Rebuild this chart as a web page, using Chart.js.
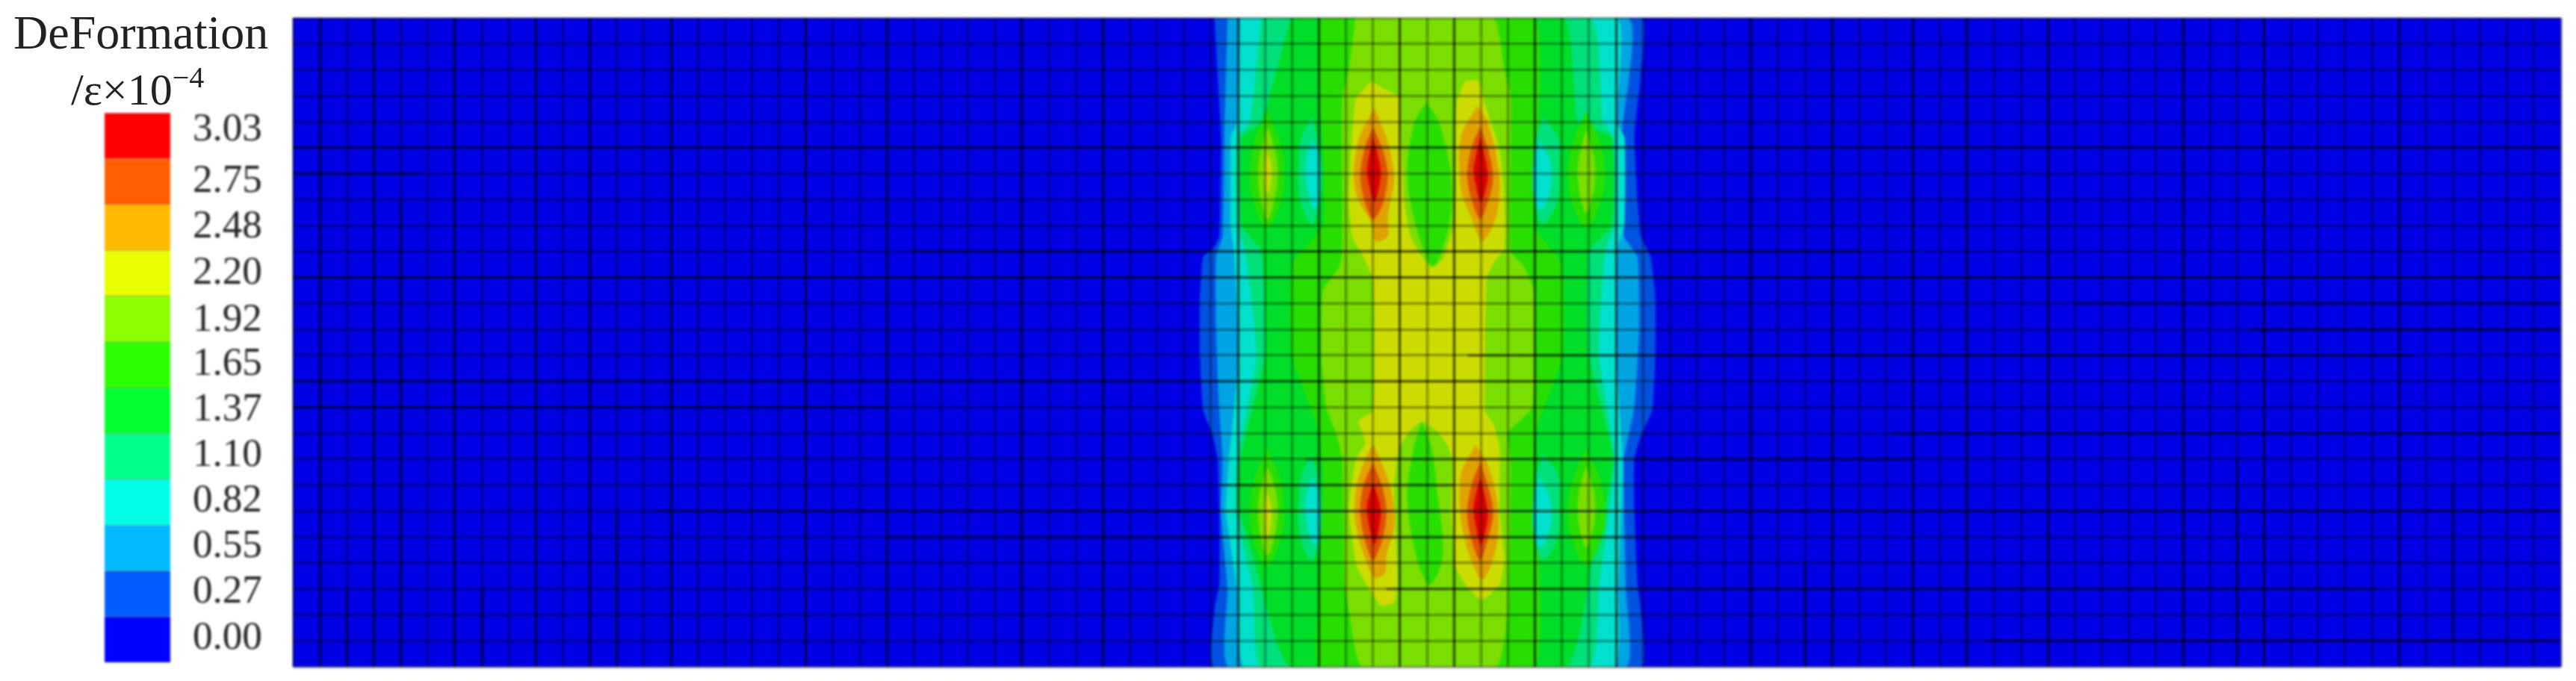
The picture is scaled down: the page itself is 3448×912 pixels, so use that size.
<!DOCTYPE html>
<html>
<head>
<meta charset="utf-8">
<title>DeFormation</title>
<script src="https://cdn.jsdelivr.net/npm/chart.js@4/dist/chart.umd.min.js"></script>
<style>
    html, body { margin: 0; background: #fff; width: 3448px; height: 912px; overflow: hidden; }
    canvas { position: absolute; top: 0; filter: blur(1.6px); }
    #plateChart { left: 385px; }
    #scaleChart { left: 0; }
    .head { position: absolute; font-family: "Liberation Serif", serif; color: #222; white-space: nowrap; filter: blur(0.7px); line-height: 1; }
    #head1 { left: 18px; top: 12px; font-size: 64px; }
    #head2 { left: 95px; top: 90px; font-size: 60px; }
    #head2 sup { font-size: 40px; position: relative; top: -6px; vertical-align: top; line-height: 1; }
</style>
</head>
<body>
<canvas id="scaleChart" width="385" height="912"></canvas>
<canvas id="plateChart" width="3063" height="912"></canvas>
<div class="head" id="head1">DeFormation</div>
<div class="head" id="head2">/ε×10<sup>−4</sup></div>

<script>
// Legend, lowest band first
const scaleLabels = ["0.00", "0.27", "0.55", "0.82", "1.10", "1.37", "1.65", "1.92", "2.20", "2.48", "2.75", "3.03"];
const scaleColors = ["#0000ff", "#005dff", "#00b9ff", "#00ffe7", "#00ff8b", "#00ff2e", "#2eff00", "#8bff00", "#e7ff00", "#ffb900", "#ff5d00", "#ff0000"];
const scaleLabelPos = [0.52, 1.53, 2.53, 3.52, 4.52, 5.51, 6.5, 7.46, 8.5, 9.5, 10.5, 11.63];
// The plate shows the same bands a bit darker
const plateColors = ["#0000e4", "#0052e0", "#00a4e2", "#00e0cc", "#00e07a", "#00de28", "#28de00", "#7ade00", "#ccdc00", "#e0a200", "#e05200", "#de0000"];

// Mesh size in elements and the lines that print darker
const meshCols = 84;
const meshRows = 25;
const darkCols = [1, 3, 6, 9, 11, 14, 19, 22, 27, 30, 35, 38, 41, 43, 46, 49, 54, 57, 60, 62, 65, 70, 73, 78];
const darkRows = [5, 10];
// Pieces of mesh lines that stop part way: [from x, from y, to x, to y]
const meshPieces = [
    [0, 6, 4.7, 6], [23, 9, 58, 9], [0, 14, 48.5, 14], [0, 15, 22, 15], [59.2, 16, 84, 16],
    [37.5, 17, 60, 17], [34.3, 18, 43, 18], [13.3, 19, 84, 19], [22, 20, 52, 20], [40.5, 22, 77.2, 22],
    [43.5, 13, 78.5, 13], [66, 11, 84, 11], [72.5, 12, 84, 12], [62.7, 24, 84, 24],
    [4, 7, 4, 25], [12, 19, 12, 25], [2, 22, 2, 25], [7, 22, 7, 25], [56, 21, 56, 25], [72, 17, 72, 25], [80, 18, 80, 24]
];

// Contour outlines in mesh units, x along the plate, y down from the top edge
const band1 = [[34.13,0],[34.25,2.2],[34.37,4.6],[34.31,8.4],[34.07,8.9],[33.71,9.2],[33.59,10.8],[33.59,13],[33.71,15.1],[34.07,16.1],[34.25,17],[34.31,19],[34.31,21.8],[34.13,22.8],[34.13,25],
    [49.92,25],[49.92,22.8],[49.8,21.8],[49.68,19],[49.68,17],[49.92,16.1],[50.34,15.1],[50.46,13],[50.46,10.8],[50.28,9.2],[49.92,8.4],[49.68,4.6],[49.92,2.2],[49.92,0]];
const band2 = [[34.61,0],[34.5,4.6],[34.43,8.4],[34.19,9.2],[34.19,12],[34.3,15],[34.43,17],[34.37,19],[34.61,22],[34.67,25],
    [49.37,25],[49.37,22],[49.3,17],[49.68,15],[49.86,12],[49.8,9.2],[49.3,8.4],[49.2,4.6],[49.44,0]];
const band3 = [[35.09,0],[34.97,4],[34.73,4.6],[34.73,8],[34.85,9],[35.03,13],[34.67,17],[34.55,19],[34.97,22],[35.27,25],
    [48.9,25],[49.08,22],[49.25,17],[49,13],[49.02,9],[49.32,8],[49.32,4.6],[49,4],[49.02,0]];
const band4 = [[35.87,0],[35.45,4],[34.97,4.6],[34.97,8],[35.27,9],[35.69,13],[34.97,17],[34.91,19],[35.57,22],[35.87,25],
    [48,25],[48.36,22],[48.95,17],[48.36,13],[48.6,9],[48.95,8],[48.9,4.6],[48.5,4],[48.05,0]];
const band5 = [[36.95,0],[35.87,4],[35.15,4.6],[35.15,8],[35.87,9],[36,13],[35.09,17],[35.09,19],[35.63,21],[36.95,25],
    [47.15,25],[48.1,21],[48.9,17],[48,13],[48,9],[48.84,8],[48.84,4.6],[47.58,4],[47.03,0]];
const band6 = [[38.03,0],[38.03,3],[38.15,5],[38.15,8],[37,9.5],[37,13],[38.03,16],[38.15,18],[38.03,22],[38.03,25],
    [45.96,25],[46,18],[46,16],[47.03,13],[47,9.5],[45.96,8],[45.96,0]];
const band7 = [[39.35,0],[39.11,2],[38.87,3],[38.87,9],[38.75,9.6],[38.15,10.5],[38.09,13],[38.27,15],[38.63,16],[38.87,17],[38.95,21.8],[39.11,22.8],[39.59,25],
    [44.57,25],[44.99,22.8],[45.1,17],[44.99,16],[45.9,15],[45.96,13],[45.96,10.5],[45.6,9.6],[45.1,9],[45.1,3],[44.87,2],[44.45,0]];
const band8 = [[39.95,2.43],[40.37,2.71],[40.97,3.05],[41.03,4.3],[41.15,6.98],[41.39,8.42],[41.87,9.28],[42.17,9.62],[42.59,9.28],[43.01,7.94],[43.07,6.4],[43.07,4.1],[43.13,3.15],[43.43,2.43],[43.91,2.43],
    [44.15,3.34],[44.69,5.06],[44.87,6.98],[44.87,8.9],[44.51,9.38],[44.21,10.05],[44.15,15.13],[44.45,15.61],[44.69,16.57],[44.69,18.97],[44.87,20.88],[44.69,21.84],[44.03,22.42],[43.43,21.84],[43.07,21.17],
    [42.89,18.97],[42.95,17.05],[42.71,16.38],[42.35,15.9],[41.81,15.56],[41.39,15.9],[40.97,16.57],[40.79,18.01],[40.85,19.93],[40.91,21.84],[40.79,22.51],[40.31,22.66],[39.95,22.13],[39.41,21.17],
    [39.11,18.97],[39.35,17.05],[39.71,16.38],[39.47,15.51],[40.01,15.13],[40.01,10.14],[39.59,9.09],[39.23,8.42],[39.11,6.98],[39.35,3.15]];

// Cooler pockets beside the hot lobes
const pocketsCool4 = [
    [[37.73,3.8],[38.03,5],[38.03,7],[37.73,7.94],[37.3,7],[37.25,5.5],[37.35,4.6]],
    [[37.73,16.8],[38.03,18],[38.03,20],[37.73,20.9],[37.3,20],[37.25,18.5],[37.35,17.6]],
    [[46.3,3.8],[46.85,4.6],[46.9,5.5],[46.85,7],[46.3,7.94],[45.96,7],[45.96,5]],
    [[46.3,16.8],[46.85,17.6],[46.9,18.5],[46.85,20],[46.3,20.9],[45.96,20],[45.96,18]]
];
const pocketsCool3 = [
    [[37.75,4.7],[38.03,5.4],[38.03,7],[37.8,7.3],[37.55,6.5],[37.5,5.5]],
    [[37.75,17.7],[38.03,18.4],[38.03,20],[37.8,20.3],[37.55,19.5],[37.5,18.5]],
    [[46.2,4.7],[46.55,5.5],[46.6,6.5],[46.25,7.4],[45.96,7],[45.96,5.4]],
    [[46.2,17.7],[46.55,18.5],[46.6,19.5],[46.25,20.4],[45.96,20],[45.96,18.4]]
];
// Small outer lobes either side
const sideLobes6 = [
    [[36.08,3.6],[36.6,4.9],[36.71,6.2],[36.55,7.2],[36.08,8.1],[35.6,7.2],[35.45,6],[35.6,4.8]],
    [[36.08,16.6],[36.6,17.9],[36.71,19.2],[36.55,20.2],[36.08,21.1],[35.6,20.2],[35.45,19],[35.6,17.8]],
    [[47.9,3.6],[48.45,4.9],[48.6,6.2],[48.4,7.2],[47.9,8.1],[47.4,7.2],[47.22,6],[47.4,4.8]],
    [[47.9,16.6],[48.45,17.9],[48.6,19.2],[48.4,20.2],[47.9,21.1],[47.4,20.2],[47.22,19],[47.4,17.8]]
];
const sideLobes7 = [
    [[36.1,4.2],[36.4,5.2],[36.47,6.1],[36.35,7],[36.1,7.75],[35.85,7],[35.75,6],[35.85,5.1]],
    [[36.1,17.3],[36.4,18.2],[36.47,19.1],[36.35,20],[36.1,20.7],[35.85,20],[35.75,19],[35.85,18.1]],
    [[47.9,4.3],[48.15,5.2],[48.24,6],[48.12,6.9],[47.9,7.5],[47.68,6.9],[47.58,6],[47.68,5.1]],
    [[47.9,17.3],[48.15,18.1],[48.24,18.9],[48.12,19.8],[47.9,20.4],[47.68,19.8],[47.58,18.9],[47.68,18]]
];
const sideLobes8 = [
    [[36.1,5.06],[36.26,5.9],[36.1,6.8],[35.97,5.9]],
    [[36.1,18.2],[36.26,19.1],[36.1,20],[35.97,19.1]]
];
// Green valley between the two hot lobes
const centreValleys = [
    [[41.99,3.24],[42.47,4.1],[42.89,6.05],[42.83,7.94],[42.23,9.57],[41.57,7.94],[41.27,6.05],[41.51,4.1]],
    [[41.81,15.56],[42.17,16.57],[42.35,18],[42.59,20.7],[42.11,21.84],[41.63,20.88],[41.27,18.49],[41.51,16.57]]
];
// The four hot lobes
const hotLobes9 = [
    [[40.05,3.45],[40.55,4.8],[40.79,6.2],[40.55,7.6],[40.55,8.4],[40.1,8.61],[39.95,7.9],[39.45,7],[39.29,6],[39.5,4.6]],
    [[43.85,3.4],[44.2,3.9],[44.55,5.2],[44.7,6.4],[44.55,7.7],[44.05,8.6],[43.6,7.6],[43.25,6.6],[43.25,4.6]],
    [[40,16.4],[40.5,17.6],[40.75,18.6],[40.79,19.6],[40.5,20.7],[40.45,21.4],[40.05,21.56],[39.7,20.8],[39.35,19.5],[39.35,18.3],[39.6,17.3]],
    [[43.8,16.45],[44.25,17.2],[44.6,18.6],[44.65,19.6],[44.5,20.7],[44.05,21.65],[43.6,20.8],[43.25,19.3],[43.25,17.6]]
];
const hotLobes10 = [
    [[40,4.2],[40.4,5.2],[40.55,6.1],[40.35,7.2],[40,7.75],[39.7,7.1],[39.53,6.1],[39.7,5]],
    [[43.97,4.2],[44.3,5.2],[44.45,6.2],[44.25,7.1],[43.97,7.75],[43.65,7],[43.49,6.1],[43.65,5]],
    [[40,17.14],[40.35,18.1],[40.5,19],[40.35,20.1],[40,20.88],[39.7,20.1],[39.53,19],[39.65,18]],
    [[43.97,17.1],[44.3,18.2],[44.45,19.1],[44.25,20.1],[43.97,20.9],[43.65,20.1],[43.49,19.1],[43.65,18]]
];
const hotLobes11 = [
    [[40,4.6],[40.25,5.6],[40.28,6.2],[40.05,7.1],[39.85,6.4],[39.78,5.8]],
    [[43.97,4.6],[44.2,5.6],[44.25,6.2],[44,7.1],[43.8,6.4],[43.73,5.8]],
    [[40,17.9],[40.25,18.7],[40.28,19.3],[40.05,20.3],[39.85,19.5],[39.78,18.8]],
    [[43.97,17.7],[44.2,18.7],[44.25,19.3],[44,20.3],[43.8,19.5],[43.73,18.8]]
];

Chart.defaults.animation = false;
Chart.defaults.responsive = false;

const plateDatasets = [];

function addOutline(points, level, tension) {
    const closed = points.concat([points[0]]);
    plateDatasets.push({
        data: closed.map(function (p) { return { x: p[0], y: p[1] }; }),
        showLine: true,
        fill: "shape",
        backgroundColor: plateColors[level],
        borderWidth: 0,
        pointRadius: 0,
        tension: tension,
    });
}

// Painted from the coolest band up, later outlines lie on top
addOutline([[0, 0], [meshCols, 0], [meshCols, meshRows], [0, meshRows]], 0, 0);
[band1, band2, band3, band4, band5, band6].forEach(function (band, i) {
    addOutline(band, i + 1, 0.15);
});
sideLobes6.forEach(function (p) { addOutline(p, 6, 0.35); });
pocketsCool4.forEach(function (p) { addOutline(p, 4, 0.35); });
pocketsCool3.forEach(function (p) { addOutline(p, 3, 0.35); });
sideLobes7.forEach(function (p) { addOutline(p, 7, 0.35); });
sideLobes8.forEach(function (p) { addOutline(p, 8, 0.35); });
addOutline(band7, 7, 0.15);
addOutline(band8, 8, 0.15);
centreValleys.forEach(function (p) { addOutline(p, 6, 0.3); });
hotLobes9.forEach(function (p) { addOutline(p, 9, 0.3); });
hotLobes10.forEach(function (p) { addOutline(p, 10, 0.3); });
hotLobes11.forEach(function (p) { addOutline(p, 11, 0.3); });

meshPieces.forEach(function (m) {
    plateDatasets.push({
        data: [{ x: m[0], y: m[1] }, { x: m[2], y: m[3] }],
        showLine: true,
        fill: false,
        borderColor: "rgba(0,0,0,0.5)",
        borderWidth: 3,
        pointRadius: 0,
    });
});

// Chart.js paints the first dataset last, so number them the other way round
plateDatasets.forEach(function (ds, i) {
    ds.order = plateDatasets.length - i;
});

function meshLine(dark) {
    return {
        z: 1,
        color: function (ctx) {
            return dark.includes(ctx.tick.value) ? "rgba(0,0,0,0.68)" : "rgba(0,0,0,0.36)";
        },
        lineWidth: 3,
        drawTicks: false,
    };
}

new Chart(document.getElementById("plateChart"), {
    type: "scatter",
    data: { datasets: plateDatasets },
    options: {
        layout: { padding: { left: 7, right: 20, top: 24, bottom: 19 } },
        plugins: { legend: { display: false }, tooltip: { enabled: false } },
        scales: {
            x: {
                type: "linear",
                min: 0,
                max: meshCols,
                ticks: { display: false, stepSize: 1 },
                grid: meshLine(darkCols),
                border: { display: false },
            },
            y: {
                type: "linear",
                reverse: true,
                min: 0,
                max: meshRows,
                ticks: { display: false, stepSize: 1 },
                grid: meshLine(darkRows),
                border: { display: false },
            },
        },
    },
});

new Chart(document.getElementById("scaleChart"), {
    type: "bar",
    data: {
        labels: [""],
        datasets: scaleColors.map(function (c) {
            return { data: [1], backgroundColor: c, borderColor: "rgba(60,60,0,0.45)", borderWidth: { top: 1 }, borderSkipped: false };
        }),
    },
    options: {
        layout: { padding: { left: 140, right: 0, top: 151, bottom: 25 } },
        plugins: { legend: { display: false }, tooltip: { enabled: false } },
        datasets: { bar: { barPercentage: 1, categoryPercentage: 1 } },
        scales: {
            x: { stacked: true, display: false },
            y: {
                stacked: true,
                position: "right",
                min: 0,
                max: scaleColors.length,
                afterBuildTicks: function (scale) {
                    scale.ticks = scaleLabelPos.map(function (v) { return { value: v }; });
                },
                afterFit: function (scale) {
                    scale.width = 157;
                    scale.paddingTop = 0;
                    scale.paddingBottom = 0;
                },
                ticks: {
                    autoSkip: false,
                    padding: 30,
                    color: "#222",
                    font: { family: "Liberation Serif", size: 53 },
                    callback: function (value, index) {
                        return scaleLabels[index];
                    },
                },
                grid: { display: false, drawTicks: false },
                border: { display: false },
            },
        },
    },
});
</script>
</body>
</html>
